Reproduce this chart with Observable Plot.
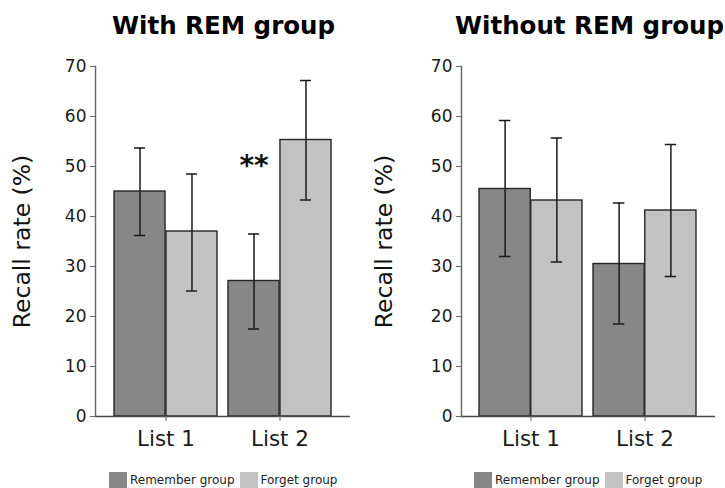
<!DOCTYPE html>
<html><head><meta charset="utf-8">
<script src="https://cdn.jsdelivr.net/npm/d3@7"></script>
<script src="https://cdn.jsdelivr.net/npm/@observablehq/plot@0.6"></script>
<style>
html,body{margin:0;padding:0;background:#fff;overflow:hidden;}
body{font-family:"DejaVu Sans",sans-serif;width:725px;height:488px;}
#root{display:flex;width:725px;position:relative;}
.panel{position:relative;flex:none;}
.title{position:absolute;top:0;height:50px;line-height:51px;font-weight:bold;font-size:24.5px;white-space:nowrap;color:#000;}
.legend{display:flex;height:17px;font-size:12px;line-height:17px;color:#222;white-space:nowrap;}
.sw{width:18px;height:17px;margin-right:3px;flex:none;}
.lt{margin-right:5px;}
</style></head><body><div id="root"></div>
<script>
const lists = ["List 1", "List 2"];
const groups = ["Remember group", "Forget group"];
const groupColors = ["#878787", "#c2c2c2"];
const panelTitles = ["With REM group", "Without REM group"];
const yTicks = [0, 10, 20, 30, 40, 50, 60, 70];
const yLabel = "Recall rate (%)";

// With REM group
const withRemember = [45.0, 27.1];
const withRememberLo = [36.2, 17.5];
const withRememberHi = [53.7, 36.5];
const withForget = [37.0, 55.3];
const withForgetLo = [25.1, 43.3];
const withForgetHi = [48.5, 67.2];
const withStars = [{list: "List 2", value: 50, label: "**"}];

// Without REM group
const withoutRemember = [45.5, 30.5];
const withoutRememberLo = [32.0, 18.5];
const withoutRememberHi = [59.2, 42.7];
const withoutForget = [43.2, 41.2];
const withoutForgetLo = [30.9, 28.0];
const withoutForgetHi = [55.7, 54.4];
const withoutStars = [];

const panels = [
  {title: panelTitles[0], rem: [withRemember, withRememberLo, withRememberHi], fgt: [withForget, withForgetLo, withForgetHi], stars: withStars,
   width: 362, mL: 95, mR: 12, titleX: 112, legendX: 109},
  {title: panelTitles[1], rem: [withoutRemember, withoutRememberLo, withoutRememberHi], fgt: [withoutForget, withoutForgetLo, withoutForgetHi], stars: withoutStars,
   width: 363, mL: 99, mR: 10, titleX: 93, legendX: 112}
];

const pI = 0.096, pO = 0.157;
const root = document.getElementById("root");

for (const p of panels) {
  const rows = [];
  lists.forEach((l, i) => {
    rows.push({list: l, group: groups[0], value: p.rem[0][i], lo: p.rem[1][i], hi: p.rem[2][i]});
    rows.push({list: l, group: groups[1], value: p.fgt[0][i], lo: p.fgt[1][i], hi: p.fgt[2][i]});
  });
  const W = p.width - p.mL - p.mR;
  const step = W / (lists.length - pI + 2 * pO);
  const bw = step * (1 - pI);
  const capInset = (bw - 12) / 2;
  const remRows = rows.filter(d => d.group === groups[0]);
  const fgtRows = rows.filter(d => d.group === groups[1]);
  const barStyle = {stroke: "#262626", strokeWidth: 1.4};

  const chart = Plot.plot({
    width: p.width,
    height: 422,
    marginLeft: p.mL,
    marginRight: p.mR,
    marginTop: 16,
    marginBottom: 56,
    style: {fontFamily: "DejaVu Sans", color: "#1a1a1a", background: "#fff", overflow: "visible"},
    x: {domain: lists, paddingInner: pI, paddingOuter: pO},
    y: {domain: [0, 70]},
    color: {domain: groups, range: groupColors},
    marks: [
      Plot.barY(remRows, {x: "list", y: "value", fill: "group", ...barStyle, insetRight: bw / 2}),
      Plot.barY(fgtRows, {x: "list", y: "value", fill: "group", ...barStyle, insetLeft: bw / 2}),
      Plot.ruleX(remRows, {x: "list", y1: "lo", y2: "hi", dx: -bw / 4, stroke: "#1a1a1a", strokeWidth: 1.5}),
      Plot.ruleX(fgtRows, {x: "list", y1: "lo", y2: "hi", dx: bw / 4, stroke: "#1a1a1a", strokeWidth: 1.5}),
      Plot.tickY(remRows, {x: "list", y: "lo", dx: -bw / 4, insetLeft: capInset, insetRight: capInset, stroke: "#1a1a1a", strokeWidth: 1.5}),
      Plot.tickY(remRows, {x: "list", y: "hi", dx: -bw / 4, insetLeft: capInset, insetRight: capInset, stroke: "#1a1a1a", strokeWidth: 1.5}),
      Plot.tickY(fgtRows, {x: "list", y: "lo", dx: bw / 4, insetLeft: capInset, insetRight: capInset, stroke: "#1a1a1a", strokeWidth: 1.5}),
      Plot.tickY(fgtRows, {x: "list", y: "hi", dx: bw / 4, insetLeft: capInset, insetRight: capInset, stroke: "#1a1a1a", strokeWidth: 1.5}),
      Plot.text(p.stars, {x: "list", y: "value", text: "label", dx: -bw / 4, fontSize: 28, fontWeight: "bold", fill: "#111"}),
      Plot.ruleY([0], {stroke: "#4a4a4a", strokeWidth: 1.5}),
      Plot.frame({anchor: "left", stroke: "#6a6a6a", strokeWidth: 1.5}),
      Plot.axisY({ticks: yTicks, tickSize: 5, tickPadding: 4, fontSize: 17, label: null, stroke: "#6a6a6a"}),
      Plot.axisX({tickSize: 5, tickPadding: 9, fontSize: 21.5, label: null, stroke: "#6a6a6a"}),
      Plot.text([yLabel], {text: d => d, frameAnchor: "left", textAnchor: "middle", rotate: -90, dx: 13 - p.mL, lineAnchor: "top", fontSize: 23.5, fill: "#111"})
    ]
  });

  const div = document.createElement("div");
  div.className = "panel";
  div.style.width = p.width + "px";
  const t = document.createElement("div");
  t.className = "title";
  t.style.left = p.titleX + "px";
  t.textContent = p.title;
  div.appendChild(t);
  const spacer = document.createElement("div");
  spacer.style.height = "50px";
  div.appendChild(spacer);
  div.appendChild(chart);
  const lg = document.createElement("div");
  lg.className = "legend";
  lg.style.marginLeft = p.legendX + "px";
  groups.forEach((g, i) => {
    const s = document.createElement("span");
    s.className = "sw";
    s.style.background = groupColors[i];
    lg.appendChild(s);
    const tx = document.createElement("span");
    tx.className = "lt";
    tx.textContent = g;
    lg.appendChild(tx);
  });
  div.appendChild(lg);
  root.appendChild(div);
}
</script></body></html>
